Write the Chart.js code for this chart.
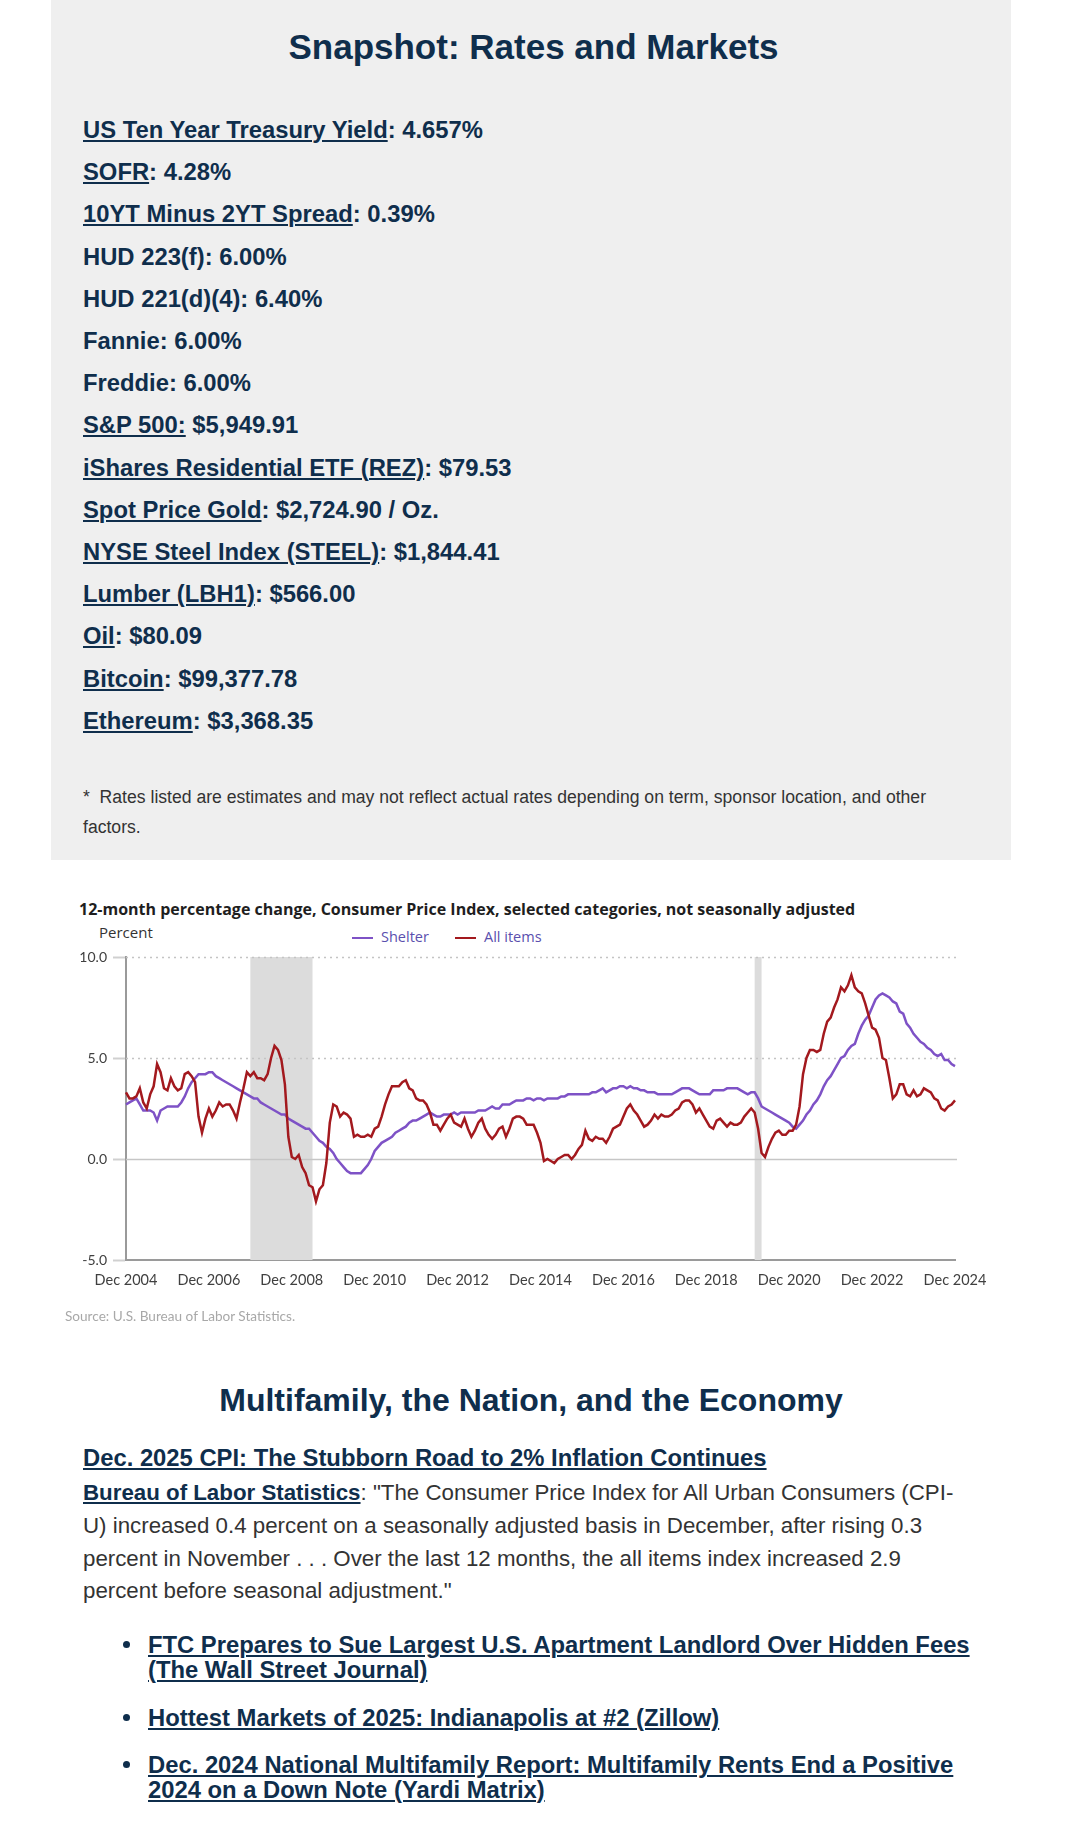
<!DOCTYPE html>
<html>
<head>
<meta charset="utf-8">
<title>Snapshot: Rates and Markets</title>
<script src="https://cdn.jsdelivr.net/npm/chart.js@4.4.1/dist/chart.umd.min.js"></script>
<style>
  body { margin: 0; background: #fff; font-family: "Liberation Sans", Arial, sans-serif; }
  #page { position: relative; width: 1067px; height: 1838px; overflow: hidden; }
  .abs { position: absolute; white-space: nowrap; }
  .navy { color: #0f2e4c; }
  a { color: #0f2e4c; text-decoration: underline; text-decoration-thickness: 2px; text-underline-offset: 2px; }

  .panel { left: 51px; top: 0; width: 960px; height: 860px; background: #efefef; }
  .h1 { left: 0; width: 1067px; text-align: center; top: 27px; font-size: 35px; line-height: 40px; font-weight: bold; }
  .rates { left: 83px; top: 109px; font-size: 23.8px; line-height: 42.2px; font-weight: bold; }
  .note { left: 83px; top: 782px; font-size: 17.6px; line-height: 30px; color: #333; }

  .ctitle { left: 79px; top: 899px; font-family: "Open Sans", sans-serif; font-weight: bold; font-size: 16px; line-height: 20px; color: #1e1e1e; }
  .unit { left: 99px; top: 922px; font-family: "Open Sans", sans-serif; font-size: 15px; line-height: 20px; color: #333; }
  .legend { left: 352px; top: 927px; font-family: "Open Sans", sans-serif; font-size: 14.5px; line-height: 20px; color: #5a4fae; }
  .legend span.sw { display: inline-block; width: 21px; height: 2px; vertical-align: middle; margin-right: 8px; }
  .legend span.item { display: inline-block; width: 103px; }
  .source { left: 65px; top: 1308px; font-family: Lato, sans-serif; font-size: 13.6px; line-height: 16px; color: #a8a8a8; }
  #chartBox { position: absolute; left: 0; top: 930px; width: 1067px; height: 380px; }

  .h2 { left: 0; width: 1062px; text-align: center; top: 1380px; font-size: 32px; line-height: 40px; font-weight: bold; }
  .story { left: 83px; top: 1444px; font-size: 23.8px; line-height: 28px; font-weight: bold; }
  .para { left: 83px; top: 1477px; font-size: 22.3px; line-height: 32.8px; color: #333; }
  .para a { font-weight: bold; }
  .news { left: 148px; font-size: 23.8px; line-height: 25px; font-weight: bold; }
  .dot { position: absolute; left: -25px; top: 9px; width: 7px; height: 7px; border-radius: 50%; background: #0f2e4c; }
</style>
</head>
<body>
<div id="page">
  <div class="abs panel"></div>
  <div class="abs h1 navy">Snapshot: Rates and Markets</div>
  <div class="abs rates navy">
    <a>US Ten Year Treasury Yield</a>: 4.657%<br>
    <a>SOFR</a>: 4.28%<br>
    <a>10YT Minus 2YT Spread</a>: 0.39%<br>
    HUD 223(f): 6.00%<br>
    HUD 221(d)(4): 6.40%<br>
    Fannie: 6.00%<br>
    Freddie: 6.00%<br>
    <a>S&amp;P 500:</a> $5,949.91<br>
    <a>iShares Residential ETF (REZ)</a>: $79.53<br>
    <a>Spot Price Gold</a>: $2,724.90 / Oz.<br>
    <a>NYSE Steel Index (STEEL)</a>: $1,844.41<br>
    <a>Lumber (LBH1)</a>: $566.00<br>
    <a>Oil</a>: $80.09<br>
    <a>Bitcoin</a>: $99,377.78<br>
    <a>Ethereum</a>: $3,368.35
  </div>
  <div class="abs note">*&nbsp; Rates listed are estimates and may not reflect actual rates depending on term, sponsor location, and other<br>factors.</div>

  <div class="abs ctitle">12-month percentage change, Consumer Price Index, selected categories, not seasonally adjusted</div>
  <div class="abs unit">Percent</div>
  <div class="abs legend" id="legend"></div>
  <div id="chartBox"><canvas id="cpiChart"></canvas></div>
  <div class="abs source">Source: U.S. Bureau of Labor Statistics.</div>

  <div class="abs h2 navy">Multifamily, the Nation, and the Economy</div>
  <div class="abs story navy"><a>Dec. 2025 CPI: The Stubborn Road to 2% Inflation Continues</a></div>
  <div class="abs para"><a>Bureau of Labor Statistics</a>: "The Consumer Price Index for All Urban Consumers (CPI-<br>U) increased 0.4 percent on a seasonally adjusted basis in December, after rising 0.3<br>percent in November . . . Over the last 12 months, the all items index increased 2.9<br>percent before seasonal adjustment."</div>
  <div class="abs news navy" style="top:1632px"><span class="dot"></span><a>FTC Prepares to Sue Largest U.S. Apartment Landlord Over Hidden Fees<br>(The Wall Street Journal)</a></div>
  <div class="abs news navy" style="top:1705px"><span class="dot"></span><a>Hottest Markets of 2025: Indianapolis at #2 (Zillow)</a></div>
  <div class="abs news navy" style="top:1752px"><span class="dot"></span><a>Dec. 2024 National Multifamily Report: Multifamily Rents End a Positive<br>2024 on a Down Note (Yardi Matrix)</a></div>
</div>

<script>
// monthly categories, Dec 2004 .. Dec 2024
const monthNames = ["Jan","Feb","Mar","Apr","May","Jun","Jul","Aug","Sep","Oct","Nov","Dec"];
const labels = ["Dec 2004"];
for (let yr = 2005; yr <= 2024; yr++) monthNames.forEach(m => labels.push(m + " " + yr));

const xTickLabels = ["Dec 2004","Dec 2006","Dec 2008","Dec 2010","Dec 2012","Dec 2014",
                     "Dec 2016","Dec 2018","Dec 2020","Dec 2022","Dec 2024"];
const yTicks = [-5, 0, 5, 10];

// shaded recessions
const recessions = [["Dec 2007","Jun 2009"], ["Feb 2020","Apr 2020"]];

const seriesNames = ["Shelter", "All items"];
const seriesColors = ["#7e52c6", "#a3191e"];

// 12-month % change, shelter (Dec 2004, then Jan..Dec per row)
const shelter = [2.7,
  2.8, 2.9, 3.0, 2.7, 2.4, 2.4, 2.4, 2.3, 1.9, 2.4, 2.5, 2.6,
  2.6, 2.6, 2.6, 2.8, 3.1, 3.5, 3.8, 4.0, 4.2, 4.2, 4.2, 4.3,
  4.3, 4.1, 4.0, 3.9, 3.8, 3.7, 3.6, 3.5, 3.4, 3.3, 3.2, 3.1,
  3.0, 3.0, 2.8, 2.7, 2.6, 2.5, 2.4, 2.3, 2.2, 2.2, 2.0, 1.9,
  1.8, 1.7, 1.6, 1.5, 1.5, 1.3, 1.1, 0.9, 0.8, 0.6, 0.5, 0.3,
  0.0, -0.2, -0.4, -0.6, -0.7, -0.7, -0.7, -0.7, -0.5, -0.3, 0.0, 0.4,
  0.6, 0.8, 0.9, 1.0, 1.1, 1.3, 1.4, 1.5, 1.6, 1.8, 1.9, 1.9,
  2.0, 2.1, 2.2, 2.3, 2.2, 2.1, 2.1, 2.2, 2.2, 2.2, 2.3, 2.2,
  2.3, 2.3, 2.3, 2.3, 2.3, 2.4, 2.4, 2.4, 2.5, 2.6, 2.5, 2.5,
  2.7, 2.7, 2.7, 2.8, 2.9, 2.9, 2.9, 3.0, 3.0, 2.9, 3.0, 3.0,
  2.9, 3.0, 3.0, 3.0, 3.0, 3.1, 3.1, 3.2, 3.2, 3.2, 3.2, 3.2,
  3.2, 3.2, 3.3, 3.3, 3.4, 3.5, 3.3, 3.4, 3.5, 3.5, 3.6, 3.6,
  3.5, 3.6, 3.5, 3.5, 3.4, 3.4, 3.3, 3.3, 3.3, 3.2, 3.2, 3.2,
  3.2, 3.2, 3.3, 3.4, 3.5, 3.5, 3.5, 3.4, 3.3, 3.2, 3.2, 3.2,
  3.2, 3.4, 3.4, 3.4, 3.4, 3.5, 3.5, 3.5, 3.5, 3.4, 3.3, 3.2,
  3.3, 3.3, 3.0, 2.6, 2.5, 2.4, 2.3, 2.2, 2.1, 2.0, 1.9, 1.8,
  1.6, 1.5, 1.7, 1.9, 2.2, 2.4, 2.7, 2.9, 3.2, 3.6, 3.9, 4.1,
  4.4, 4.7, 5.0, 5.1, 5.4, 5.6, 5.7, 6.2, 6.6, 6.9, 7.1, 7.5,
  7.9, 8.1, 8.2, 8.1, 8.0, 7.8, 7.7, 7.3, 7.2, 6.7, 6.5, 6.2,
  6.0, 5.8, 5.7, 5.5, 5.4, 5.2, 5.1, 5.2, 4.9, 4.9, 4.7, 4.6
];

// 12-month % change, all items
const allItems = [3.3,
  3.0, 3.0, 3.1, 3.5, 2.8, 2.5, 3.2, 3.6, 4.7, 4.3, 3.5, 3.4,
  4.0, 3.6, 3.4, 3.5, 4.2, 4.3, 4.1, 3.8, 2.1, 1.3, 2.0, 2.5,
  2.1, 2.4, 2.8, 2.6, 2.7, 2.7, 2.4, 2.0, 2.8, 3.5, 4.3, 4.1,
  4.3, 4.0, 4.0, 3.9, 4.2, 5.0, 5.6, 5.4, 4.9, 3.7, 1.1, 0.1,
  0.0, 0.2, -0.4, -0.7, -1.3, -1.4, -2.1, -1.5, -1.3, -0.2, 1.8, 2.7,
  2.6, 2.1, 2.3, 2.2, 2.0, 1.1, 1.2, 1.1, 1.1, 1.2, 1.1, 1.5,
  1.6, 2.1, 2.7, 3.2, 3.6, 3.6, 3.6, 3.8, 3.9, 3.5, 3.4, 3.0,
  2.9, 2.9, 2.7, 2.3, 1.7, 1.7, 1.4, 1.7, 2.0, 2.2, 1.8, 1.7,
  1.6, 2.0, 1.5, 1.1, 1.4, 1.8, 2.0, 1.5, 1.2, 1.0, 1.2, 1.5,
  1.6, 1.1, 1.5, 2.0, 2.1, 2.1, 2.0, 1.7, 1.7, 1.7, 1.3, 0.8,
  -0.1, 0.0, -0.1, -0.2, 0.0, 0.1, 0.2, 0.2, 0.0, 0.2, 0.5, 0.7,
  1.4, 1.0, 0.9, 1.1, 1.0, 1.0, 0.8, 1.1, 1.5, 1.6, 1.7, 2.1,
  2.5, 2.7, 2.4, 2.2, 1.9, 1.6, 1.7, 1.9, 2.2, 2.0, 2.2, 2.1,
  2.1, 2.2, 2.4, 2.5, 2.8, 2.9, 2.9, 2.7, 2.3, 2.5, 2.2, 1.9,
  1.6, 1.5, 1.9, 2.0, 1.8, 1.6, 1.8, 1.7, 1.7, 1.8, 2.1, 2.3,
  2.5, 2.3, 1.5, 0.3, 0.1, 0.6, 1.0, 1.3, 1.4, 1.2, 1.2, 1.4,
  1.4, 1.7, 2.6, 4.2, 5.0, 5.4, 5.4, 5.3, 5.4, 6.2, 6.8, 7.0,
  7.5, 7.9, 8.5, 8.3, 8.6, 9.1, 8.5, 8.3, 8.2, 7.7, 7.1, 6.5,
  6.4, 6.0, 5.0, 4.9, 4.0, 3.0, 3.2, 3.7, 3.7, 3.2, 3.1, 3.4,
  3.1, 3.2, 3.5, 3.4, 3.3, 3.0, 2.9, 2.5, 2.4, 2.6, 2.7, 2.9
];

// legend
document.getElementById("legend").innerHTML = seriesNames.map((n, i) =>
  `<span class="item"><span class="sw" style="background:${seriesColors[i]}"></span>${n}</span>`).join("");

// recession bars + horizontal guides
const backdrop = {
  id: "backdrop",
  beforeDatasetsDraw(chart) {
    const { ctx, chartArea: a, scales: { x, y } } = chart;
    ctx.save();
    ctx.fillStyle = "#dcdcdc";
    recessions.forEach(([s, e]) => {
      const x1 = x.getPixelForValue(labels.indexOf(s));
      const x2 = x.getPixelForValue(labels.indexOf(e));
      ctx.fillRect(x1, a.top, x2 - x1, a.bottom - a.top);
    });
    yTicks.forEach(v => {
      if (v <= y.min) return;
      const py = Math.round(y.getPixelForValue(v)) + 0.5;
      ctx.beginPath();
      ctx.lineWidth = 1.5;
      ctx.strokeStyle = v === 0 ? "#c6c6c6" : "#c4c4c4";
      ctx.setLineDash(v === 0 ? [] : [2, 4]);
      ctx.moveTo(a.left, py);
      ctx.lineTo(a.right + 2, py);
      ctx.stroke();
    });
    ctx.restore();
  }
};

Chart.defaults.font.family = "Lato, sans-serif";

new Chart(document.getElementById("cpiChart"), {
  type: "line",
  data: {
    labels: labels,
    datasets: [
      { label: seriesNames[0], data: shelter, borderColor: seriesColors[0], borderWidth: 2.5,
        pointRadius: 0, order: 1 },
      { label: seriesNames[1], data: allItems, borderColor: seriesColors[1], borderWidth: 2.5,
        pointRadius: 0, order: 0 }
    ]
  },
  options: {
    responsive: true,
    maintainAspectRatio: false,
    animation: false,
    layout: { padding: { top: 27, right: 112, bottom: 0, left: 0 } },
    plugins: { legend: { display: false }, tooltip: { enabled: false } },
    scales: {
      x: {
        ticks: {
          autoSkip: false, maxRotation: 0, padding: 11.5, color: "#404040", font: { size: 14.5 },
          callback: function (v) {
            const l = this.getLabelForValue(v);
            return xTickLabels.includes(l) ? l : "";
          }
        },
        grid: { drawOnChartArea: false, drawTicks: false },
        border: { color: "#9a9a9a", width: 2 },
        afterFit: s => { s.height = 50; }
      },
      y: {
        min: -5, max: 10,
        afterBuildTicks: s => { s.ticks = yTicks.map(v => ({ value: v })); },
        ticks: { padding: 6, color: "#404040", font: { size: 14 }, callback: v => v.toFixed(1) },
        grid: { drawOnChartArea: false, tickLength: 13, tickColor: "#d0d0d0", tickWidth: 2 },
        border: { color: "#9a9a9a", width: 2 },
        afterFit: s => { s.width = 126; }
      }
    }
  },
  plugins: [backdrop]
});
</script>
</body>
</html>
